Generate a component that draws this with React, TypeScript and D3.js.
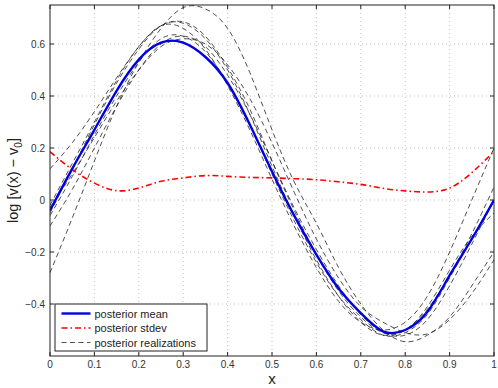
import React from 'react';
import * as d3 from 'd3';

// sample positions along x
const xs = [0, 0.05, 0.1, 0.15, 0.2, 0.25, 0.3, 0.35, 0.4, 0.45, 0.5, 0.55, 0.6, 0.65, 0.7, 0.75, 0.8, 0.85, 0.9, 0.95, 1];

const posteriorMean = [-0.04, 0.12, 0.27, 0.42, 0.54, 0.605, 0.605, 0.55, 0.45, 0.29, 0.11, -0.06, -0.21, -0.34, -0.435, -0.505, -0.5, -0.43, -0.29, -0.15, 0.0];
const posteriorStdev = [0.186, 0.117, 0.065, 0.036, 0.046, 0.072, 0.085, 0.094, 0.091, 0.087, 0.085, 0.082, 0.078, 0.07, 0.06, 0.045, 0.035, 0.031, 0.046, 0.105, 0.187];

const realization1 = [-0.28, -0.07, 0.15, 0.36, 0.53, 0.66, 0.74, 0.735, 0.66, 0.49, 0.27, 0.07, -0.09, -0.26, -0.4, -0.5, -0.545, -0.52, -0.45, -0.33, -0.2];
const realization2 = [0.12, 0.22, 0.34, 0.47, 0.59, 0.67, 0.66, 0.58, 0.44, 0.27, 0.08, -0.1, -0.26, -0.39, -0.47, -0.5, -0.47, -0.37, -0.2, 0.0, 0.2];
const realization3 = [-0.1, 0.04, 0.2, 0.36, 0.5, 0.6, 0.63, 0.59, 0.48, 0.33, 0.15, -0.03, -0.19, -0.33, -0.44, -0.51, -0.52, -0.46, -0.33, -0.17, 0.0];
const realization4 = [-0.05, 0.12, 0.29, 0.45, 0.58, 0.67, 0.68, 0.62, 0.5, 0.33, 0.13, -0.06, -0.23, -0.37, -0.47, -0.52, -0.5, -0.42, -0.29, -0.13, 0.05];
const realization5 = [-0.03, 0.1, 0.24, 0.38, 0.5, 0.59, 0.62, 0.6, 0.52, 0.39, 0.22, 0.03, -0.15, -0.3, -0.41, -0.47, -0.51, -0.515, -0.46, -0.36, -0.23];
const realization6 = [-0.06, 0.09, 0.25, 0.4, 0.53, 0.62, 0.63, 0.57, 0.45, 0.29, 0.1, -0.08, -0.24, -0.37, -0.46, -0.52, -0.51, -0.44, -0.3, -0.15, 0.0];
const realization7 = [-0.02, 0.14, 0.3, 0.46, 0.59, 0.67, 0.685, 0.63, 0.51, 0.35, 0.15, -0.04, -0.21, -0.35, -0.45, -0.51, -0.5, -0.41, -0.27, -0.14, -0.05];
const realizations = [realization1, realization2, realization3, realization4, realization5, realization6, realization7];

const xTicks = [0, 0.1, 0.2, 0.3, 0.4, 0.5, 0.6, 0.7, 0.8, 0.9, 1];
const yTicks = [-0.4, -0.2, 0, 0.2, 0.4, 0.6];

const legendItems = ['posterior mean', 'posterior stdev', 'posterior realizations'];

const width = 498;
const height = 388;
const margin = { top: 5, right: 4, bottom: 32, left: 50 };
const font = '"Liberation Sans", Arial, Helvetica, sans-serif';

const App = () => {
  const x = d3.scaleLinear().domain([0, 1]).range([margin.left, width - margin.right]);
  const y = d3.scaleLinear().domain([-0.6, 0.75]).range([height - margin.bottom, margin.top]);

  const line = d3.line<number>()
    .x((_, i) => x(xs[i]))
    .y((d) => y(d))
    .curve(d3.curveNatural);

  const left = x(0);
  const right = x(1);
  const top = y(0.75);
  const bottom = y(-0.6);
  const tickLen = 4;

  // legend box
  const lg = { x: 55, y: 304, w: 152, h: 47 };
  const lgRows = [313.5, 328, 342.5];

  return (
    <svg width={width} height={height} style={{ position: 'absolute', left: 0, top: 0, background: '#fff' }}>
      <rect x={0} y={0} width={width} height={height} fill="#fff" />
      <defs>
        <clipPath id="plot-area">
          <rect x={left} y={top} width={right - left} height={bottom - top} />
        </clipPath>
      </defs>

      {/* dotted grid */}
      <g stroke="#b4b4b4" strokeWidth={0.8} strokeDasharray="1,3">
        {xTicks.slice(1, -1).map((t) => (
          <line key={`gx${t}`} x1={x(t)} x2={x(t)} y1={top} y2={bottom} />
        ))}
        {yTicks.map((t) => (
          <line key={`gy${t}`} x1={left} x2={right} y1={y(t)} y2={y(t)} />
        ))}
      </g>

      <g clipPath="url(#plot-area)" fill="none">
        {realizations.map((r, i) => (
          <path key={i} d={line(r) ?? ''} stroke="#222" strokeWidth={0.8} strokeDasharray="5,3.5" />
        ))}
        <path d={line(posteriorStdev) ?? ''} stroke="#ff0000" strokeWidth={1.6} strokeDasharray="6,3,1.5,3" />
        <path d={line(posteriorMean) ?? ''} stroke="#0000e0" strokeWidth={2.4} />
      </g>

      {/* frame with inward ticks */}
      <g stroke="#222" strokeWidth={1}>
        <rect x={left} y={top} width={right - left} height={bottom - top} fill="none" />
        {xTicks.map((t) => (
          <g key={`tx${t}`}>
            <line x1={x(t)} x2={x(t)} y1={bottom} y2={bottom - tickLen} />
            <line x1={x(t)} x2={x(t)} y1={top} y2={top + tickLen} />
          </g>
        ))}
        {yTicks.map((t) => (
          <g key={`ty${t}`}>
            <line x1={left} x2={left + tickLen} y1={y(t)} y2={y(t)} />
            <line x1={right} x2={right - tickLen} y1={y(t)} y2={y(t)} />
          </g>
        ))}
      </g>

      <g fontFamily={font} fontSize={10} fill="#333">
        {xTicks.map((t) => (
          <text key={`lx${t}`} x={x(t)} y={bottom + 12} textAnchor="middle">{d3.format('~g')(t)}</text>
        ))}
        {yTicks.map((t) => (
          <text key={`ly${t}`} x={left - 5} y={y(t) + 3.5} textAnchor="end">{t === 0 ? '0' : d3.format('.1f')(t).replace('-', '\u2212')}</text>
        ))}
      </g>

      <text x={(left + right) / 2} y={384} fontFamily={font} fontSize={15} textAnchor="middle" fill="#222">x</text>
      <text transform={`translate(18, ${(top + bottom) / 2}) rotate(-90)`} fontFamily={font} fontSize={14.5} textAnchor="middle" fill="#222">
        log [v(x) {'\u2212'} v<tspan fontSize={10} dy={4}>0</tspan><tspan dy={-4}>]</tspan>
      </text>

      {/* legend */}
      <g>
        <rect x={lg.x} y={lg.y} width={lg.w} height={lg.h} fill="#fff" stroke="#222" strokeWidth={1} />
        <line x1={61.5} x2={90.5} y1={lgRows[0]} y2={lgRows[0]} stroke="#0000e0" strokeWidth={2.4} />
        <line x1={61.5} x2={90.5} y1={lgRows[1]} y2={lgRows[1]} stroke="#ff0000" strokeWidth={1.6} strokeDasharray="6,3,1.5,3" />
        <line x1={61.5} x2={90.5} y1={lgRows[2]} y2={lgRows[2]} stroke="#222" strokeWidth={0.8} strokeDasharray="5,3.5" />
        {legendItems.map((s, i) => (
          <text key={s} x={94.5} y={lgRows[i] + 4} fontFamily={font} fontSize={11} fill="#222">{s}</text>
        ))}
      </g>
    </svg>
  );
};

export default App;
